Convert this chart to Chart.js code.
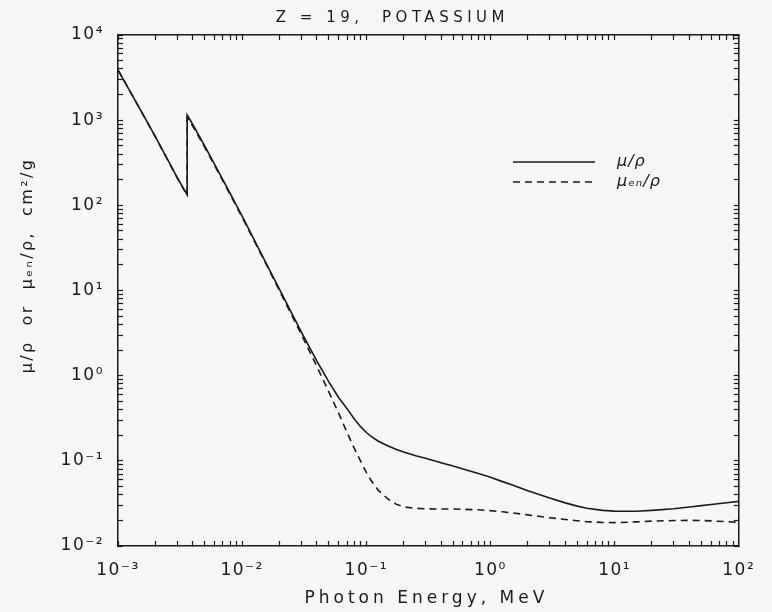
<!DOCTYPE html>
<html>
<head>
<meta charset="utf-8">
<script src="https://cdn.jsdelivr.net/npm/chart.js@4.4.1/dist/chart.umd.min.js"></script>
<style>
  html, body { margin: 0; padding: 0; background: #f6f6f4; }
  #wrap { width: 772px; height: 612px; }
</style>
</head>
<body>
<div id="wrap"><canvas id="myChart" width="772" height="612"></canvas></div>
<script>
// Energia del foton (MeV) - el borde K aparece dos veces
const energias = [0.001, 0.0015, 0.002, 0.003, 0.0036074, 0.0036074, 0.004, 0.005, 0.006, 0.008,
  0.01, 0.015, 0.02, 0.03, 0.04, 0.05, 0.06, 0.07, 0.08, 0.09, 0.1, 0.11, 0.125, 0.15, 0.175, 0.2, 0.25, 0.3, 0.4, 0.5, 0.6, 0.8,
  1, 1.25, 1.5, 2, 3, 4, 5, 6, 8, 10, 15, 20, 30, 40, 50, 60, 80, 100];

// mu/rho (linea continua)
const muRho = [3900, 1360, 640, 212, 133, 1150, 890, 495, 303, 138,
  74.5, 23.4, 10.3, 3.25, 1.48, 0.84, 0.55, 0.41, 0.31, 0.252, 0.215, 0.192, 0.170, 0.149, 0.136, 0.127, 0.115, 0.107, 0.095, 0.087, 0.080, 0.071,
  0.064, 0.057, 0.052, 0.0445, 0.0365, 0.0321, 0.0294, 0.0277, 0.0262, 0.0257, 0.0256, 0.0262, 0.0274, 0.0287, 0.0298, 0.0307, 0.0322, 0.0334];

// mu_en/rho (linea discontinua)
const muEnRho = [3890, 1355, 637, 210, 131, 1060, 850, 478, 293, 134,
  72.5, 22.8, 9.9, 3.05, 1.28, 0.64, 0.36, 0.215, 0.14, 0.099, 0.073, 0.058, 0.045, 0.0355, 0.0308, 0.0288, 0.0277, 0.0273, 0.0272, 0.0272, 0.0270, 0.0266,
  0.0260, 0.0252, 0.0245, 0.0232, 0.0215, 0.0205, 0.0198, 0.0193, 0.0189, 0.0188, 0.0192, 0.0196, 0.0199, 0.0200, 0.0199, 0.0197, 0.0193, 0.0190];

const xMin = 1e-3, xMax = 1e2;
const yMin = 1e-2, yMax = 1e4;

const titulo = 'Z = 19,  POTASSIUM';
const tituloX = 'Photon Energy, MeV';
const tituloY = 'μ/ρ  or  μₑₙ/ρ,  cm²/g';
const etiquetas = ['μ/ρ', 'μₑₙ/ρ'];

const sup = {'-': '⁻', '0': '⁰', '1': '¹', '2': '²', '3': '³', '4': '⁴', '5': '⁵'};
function potencia(v) {
  const e = Math.round(Math.log10(v));
  if (Math.abs(Math.log10(v) - e) > 1e-6) return '';
  return '10' + String(e).split('').map(c => sup[c]).join('');
}

// ticks 1..9 x 10^n en cada decada
function ticksLog(scale) {
  const t = [];
  const e0 = Math.round(Math.log10(scale.min)), e1 = Math.round(Math.log10(scale.max));
  for (let e = e0; e <= e1; e++) {
    for (let m = 1; m <= 9; m++) {
      const v = m * Math.pow(10, e);
      if (v > scale.max * 1.0001) break;
      t.push({value: v, major: m === 1});
    }
  }
  scale.ticks = t;
}

const tinta = '#1a1a1a';
const fuente = {family: 'DejaVu Sans', size: 17};

function eje(pos, min, max, extra) {
  return Object.assign({
    type: 'logarithmic',
    position: pos,
    min: min,
    max: max,
    afterBuildTicks: ticksLog,
    border: {display: true, color: tinta, width: 1.5},
    grid: {drawOnChartArea: false, drawTicks: true, tickLength: -5, color: tinta, tickWidth: 1.2},
    ticks: {autoSkip: false, maxRotation: 0, color: tinta, font: fuente, padding: 19, callback: potencia}
  }, extra);
}

// titulos y leyenda
const textos = {
  id: 'textos',
  beforeDraw(chart) { chart.ctx.letterSpacing = '1.5px'; },
  afterDraw(chart) {
    const ctx = chart.ctx;
    const a = chart.chartArea;
    const cx = (a.left + a.right) / 2;
    ctx.save();
    ctx.fillStyle = tinta;
    ctx.textAlign = 'center';
    ctx.textBaseline = 'middle';

    ctx.letterSpacing = '4.5px';
    ctx.font = '15px "DejaVu Sans"';
    ctx.fillText(titulo, cx - 36, 18);

    ctx.letterSpacing = '4px';
    ctx.font = '17px "DejaVu Sans"';
    ctx.fillText(tituloX, cx - 2, 599);

    ctx.letterSpacing = '2.4px';
    ctx.font = '16px "DejaVu Sans"';
    ctx.save();
    ctx.translate(28, (a.top + a.bottom) / 2 - 25);
    ctx.rotate(-Math.PI / 2);
    ctx.fillText(tituloY, 0, 0);
    ctx.restore();

    // leyenda
    ctx.letterSpacing = '1px';
    ctx.textAlign = 'left';
    chart.data.datasets.forEach((ds, i) => {
      const y = a.top + 127 + i * 20;
      ctx.strokeStyle = ds.borderColor;
      ctx.lineWidth = ds.borderWidth;
      ctx.setLineDash(ds.borderDash || []);
      ctx.beginPath();
      ctx.moveTo(a.left + 395, y);
      ctx.lineTo(a.left + 477, y);
      ctx.stroke();
      ctx.setLineDash([]);
      ctx.font = 'italic 16px "DejaVu Sans"';
      ctx.fillText(ds.label, a.left + 499, y);
    });
    ctx.restore();
  }
};

new Chart(document.getElementById('myChart'), {
  type: 'line',
  data: {
    datasets: [{
      label: etiquetas[0],
      data: energias.map((e, i) => ({x: e, y: muRho[i]})),
      borderColor: tinta,
      borderWidth: 1.6,
      pointRadius: 0,
      tension: 0
    }, {
      label: etiquetas[1],
      data: energias.map((e, i) => ({x: e, y: muEnRho[i]})),
      borderColor: tinta,
      borderWidth: 1.6,
      borderDash: [7, 5],
      pointRadius: 0,
      tension: 0
    }]
  },
  options: {
    responsive: false,
    animation: false,
    layout: {padding: {left: 0, right: 21, top: 0, bottom: 0}},
    plugins: {legend: {display: false}, tooltip: {enabled: false}, title: {display: false}},
    scales: {
      x: eje('bottom', xMin, xMax, {
        afterFit(s) { s.height = 66; }
      }),
      x2: eje('top', xMin, xMax, {
        afterFit(s) { s.height = 35; },
        ticks: {display: false, autoSkip: false}
      }),
      y: eje('left', yMin, yMax, {
        afterFit(s) { s.width = 118; }
      }),
      y2: eje('right', yMin, yMax, {
        afterFit(s) { s.width = 0; },
        ticks: {display: false, autoSkip: false}
      })
    }
  },
  plugins: [textos]
});
</script>
</body>
</html>
